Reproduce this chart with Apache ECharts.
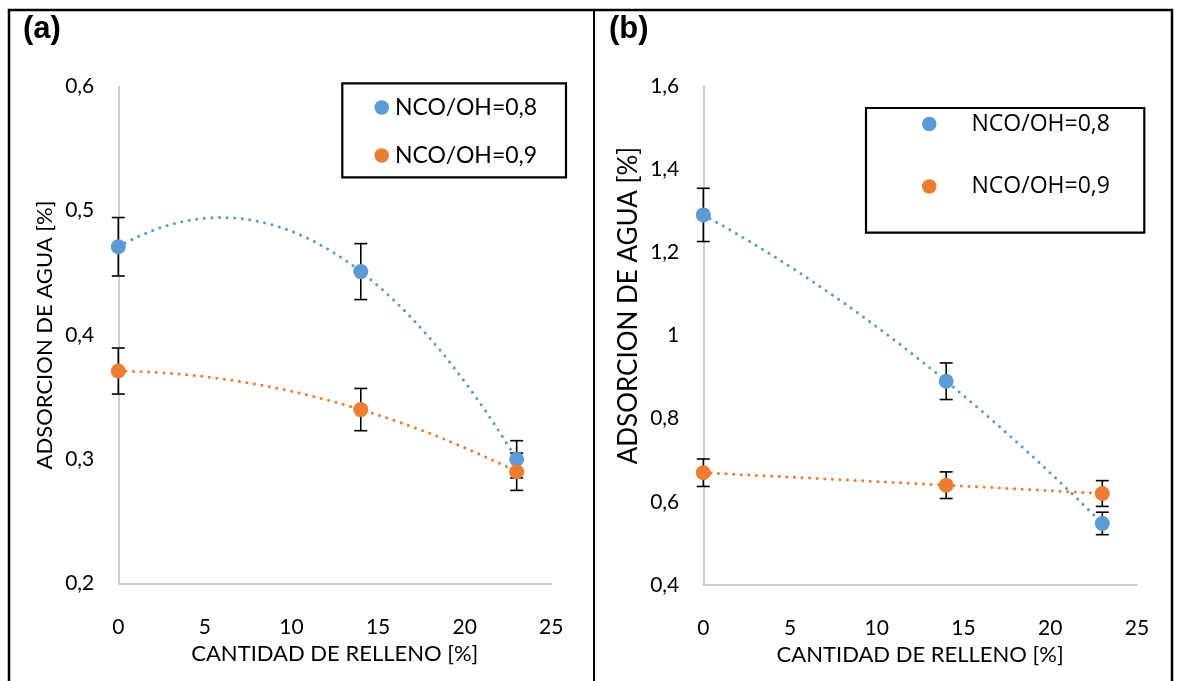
<!DOCTYPE html>
<html>
<head>
<meta charset="utf-8">
<script src="https://cdn.jsdelivr.net/npm/echarts@6/dist/echarts.min.js"></script>
<style>
html, body { margin: 0; padding: 0; background: #fff; }
#chart { width: 1179px; height: 681px; }
</style>
</head>
<body>
<div id="chart"></div>
<script>
// relleno (x) for every series
const fillX = [0, 14, 23]
const seriesNames = ['NCO/OH=0,8', 'NCO/OH=0,9']

// panel (a)
const aBlue = [0.471, 0.451, 0.300]
const aBlueErr = [0.0235, 0.0225, 0.015]
const aOrange = [0.371, 0.340, 0.290]
const aOrangeErr = [0.0185, 0.017, 0.015]

// panel (b)
const bBlue = [1.29, 0.89, 0.548]
const bBlueErr = [0.064, 0.044, 0.027]
const bOrange = [0.670, 0.640, 0.620]
const bOrangeErr = [0.033, 0.032, 0.031]

const colors = ['#5B9BD5', '#ED7D31']
const calibri = 'Lato, "Open Sans", sans-serif'

// polynomial (order 2) trendline, least squares like excel
function polyTrend(xs, ys) {
  const n = xs.length
  let s = [0, 0, 0, 0, 0], t = [0, 0, 0]
  for (let i = 0; i < n; i++) {
    for (let k = 0; k < 5; k++) s[k] += Math.pow(xs[i], k)
    for (let k = 0; k < 3; k++) t[k] += ys[i] * Math.pow(xs[i], k)
  }
  // solve 3x3 system by cramer
  const m = [[s[0], s[1], s[2]], [s[1], s[2], s[3]], [s[2], s[3], s[4]]]
  const det = a => a[0][0] * (a[1][1] * a[2][2] - a[1][2] * a[2][1])
    - a[0][1] * (a[1][0] * a[2][2] - a[1][2] * a[2][0])
    + a[0][2] * (a[1][0] * a[2][1] - a[1][1] * a[2][0])
  const d = det(m)
  const coef = [0, 1, 2].map(c => det(m.map((row, r) => row.map((v, j) => (j === c ? t[r] : v)))) / d)
  const pts = []
  const x0 = xs[0], x1 = xs[n - 1]
  for (let i = 0; i <= 120; i++) {
    const x = x0 + (x1 - x0) * i / 120
    pts.push([x, coef[0] + coef[1] * x + coef[2] * x * x])
  }
  return pts
}

function errBars(ys, errs) {
  return fillX.map((x, i) => [x, ys[i], errs[i]])
}

function renderErr(params, api) {
  const x = api.value(0), y = api.value(1), e = api.value(2)
  const top = api.coord([x, y + e])
  const bot = api.coord([x, y - e])
  const w = 6.5
  const st = { stroke: '#000', lineWidth: 1.6 }
  return {
    type: 'group',
    children: [
      { type: 'line', shape: { x1: top[0], y1: top[1], x2: bot[0], y2: bot[1] }, style: st },
      { type: 'line', shape: { x1: top[0] - w, y1: top[1], x2: top[0] + w, y2: top[1] }, style: st },
      { type: 'line', shape: { x1: bot[0] - w, y1: bot[1], x2: bot[0] + w, y2: bot[1] }, style: st }
    ]
  }
}

function xAxisOpt(idx) {
  return {
    gridIndex: idx,
    type: 'value',
    min: 0,
    max: 25,
    interval: 5,
    name: 'CANTIDAD DE RELLENO [%]',
    nameLocation: 'middle',
    nameGap: 51,
    nameTextStyle: { fontFamily: calibri, fontSize: 22, color: '#000' },
    axisLine: { show: true, onZero: false, lineStyle: { color: '#BFBFBF', width: 1.5 } },
    axisTick: { show: false },
    splitLine: { show: false },
    axisLabel: { margin: 33, fontFamily: calibri, fontSize: 21, color: '#000' }
  }
}

function yAxisOpt(idx, min, max, interval, nameSize, namePad) {
  return {
    gridIndex: idx,
    type: 'value',
    min: min,
    max: max,
    interval: interval,
    name: 'ADSORCION DE AGUA [%]',
    nameLocation: 'middle',
    nameGap: 62,
    nameTextStyle: { fontFamily: calibri, fontSize: nameSize, color: '#000', padding: namePad },
    axisLine: { show: true, lineStyle: { color: '#BFBFBF', width: 1.5 } },
    axisTick: { show: false },
    splitLine: { show: false },
    axisLabel: {
      margin: 24,
      fontFamily: calibri,
      fontSize: 21,
      color: '#000',
      formatter: v => String(+v.toFixed(1)).replace('.', ',')
    }
  }
}

function panelSeries(idx, blue, blueErr, orange, orangeErr) {
  const sets = [[blue, blueErr], [orange, orangeErr]]
  const out = []
  sets.forEach((s, k) => {
    out.push({
      name: 'trend' + idx + k,
      type: 'line',
      xAxisIndex: idx,
      yAxisIndex: idx,
      data: polyTrend(fillX, s[0]),
      showSymbol: false,
      smooth: false,
      silent: true,
      z: 1,
      lineStyle: { color: colors[k], width: 3, type: [0.1, 7.5], cap: 'round' }
    })
    out.push({
      name: 'err' + idx + k,
      type: 'custom',
      xAxisIndex: idx,
      yAxisIndex: idx,
      data: errBars(s[0], s[1]),
      renderItem: renderErr,
      silent: true,
      z: 2
    })
    out.push({
      name: seriesNames[k],
      type: 'scatter',
      xAxisIndex: idx,
      yAxisIndex: idx,
      data: fillX.map((x, i) => [x, s[0][i]]),
      symbolSize: 15,
      itemStyle: { color: colors[k], opacity: 1 },
      z: 3
    })
  })
  return out
}

const chart = echarts.init(document.getElementById('chart'))
chart.setOption({
  animation: false,
  backgroundColor: '#fff',
  grid: [
    { left: 118.3, top: 86.4, width: 433, height: 497.2 },
    { left: 703.3, top: 86, width: 433.7, height: 499 }
  ],
  xAxis: [xAxisOpt(0), xAxisOpt(1)],
  yAxis: [
    yAxisOpt(0, 0.2, 0.6, 0.1, 22, 0),
    yAxisOpt(1, 0.4, 1.6, 0.2, 26, [0, 0, 0, 60])
  ],
  legend: [
    {
      data: seriesNames,
      orient: 'vertical',
      left: 374.5,
      top: 95.5,
      itemGap: 24,
      itemWidth: 14.5,
      itemHeight: 14.5,
      icon: 'circle',
      padding: 0,
      selectedMode: false,
      textStyle: { fontFamily: calibri, fontSize: 23, color: '#000', lineHeight: 24, padding: [0, 0, 0, 1] }
    },
    {
      data: seriesNames,
      orient: 'vertical',
      left: 922,
      top: 112,
      itemGap: 38.5,
      itemWidth: 14.5,
      itemHeight: 14.5,
      icon: 'circle',
      padding: 0,
      selectedMode: false,
      textStyle: { fontFamily: '"Open Sans", sans-serif', fontSize: 23, color: '#000', lineHeight: 24, padding: [0, 0, 0, 30] }
    }
  ],
  graphic: [
    { type: 'rect', shape: { x: 9, y: 10, width: 1163, height: 700 }, style: { fill: 'none', stroke: '#000', lineWidth: 2.5 }, silent: true },
    { type: 'line', shape: { x1: 594, y1: 10, x2: 594, y2: 681 }, style: { stroke: '#000', lineWidth: 2 }, silent: true },
    { type: 'rect', shape: { x: 342.3, y: 83.3, width: 223.7, height: 94 }, style: { fill: 'none', stroke: '#000', lineWidth: 2.2 }, silent: true },
    { type: 'rect', shape: { x: 866, y: 108, width: 278.3, height: 124.7 }, style: { fill: 'none', stroke: '#000', lineWidth: 2.2 }, silent: true },
    { type: 'text', left: 23, top: 14, style: { text: '(a)', font: 'bold 31px "Liberation Sans", Arial, sans-serif', fill: '#000' } },
    { type: 'text', left: 609, top: 14, style: { text: '(b)', font: 'bold 31px "Liberation Sans", Arial, sans-serif', fill: '#000' } }
  ],
  series: [].concat(
    panelSeries(0, aBlue, aBlueErr, aOrange, aOrangeErr),
    panelSeries(1, bBlue, bBlueErr, bOrange, bOrangeErr)
  )
})
</script>
</body>
</html>
